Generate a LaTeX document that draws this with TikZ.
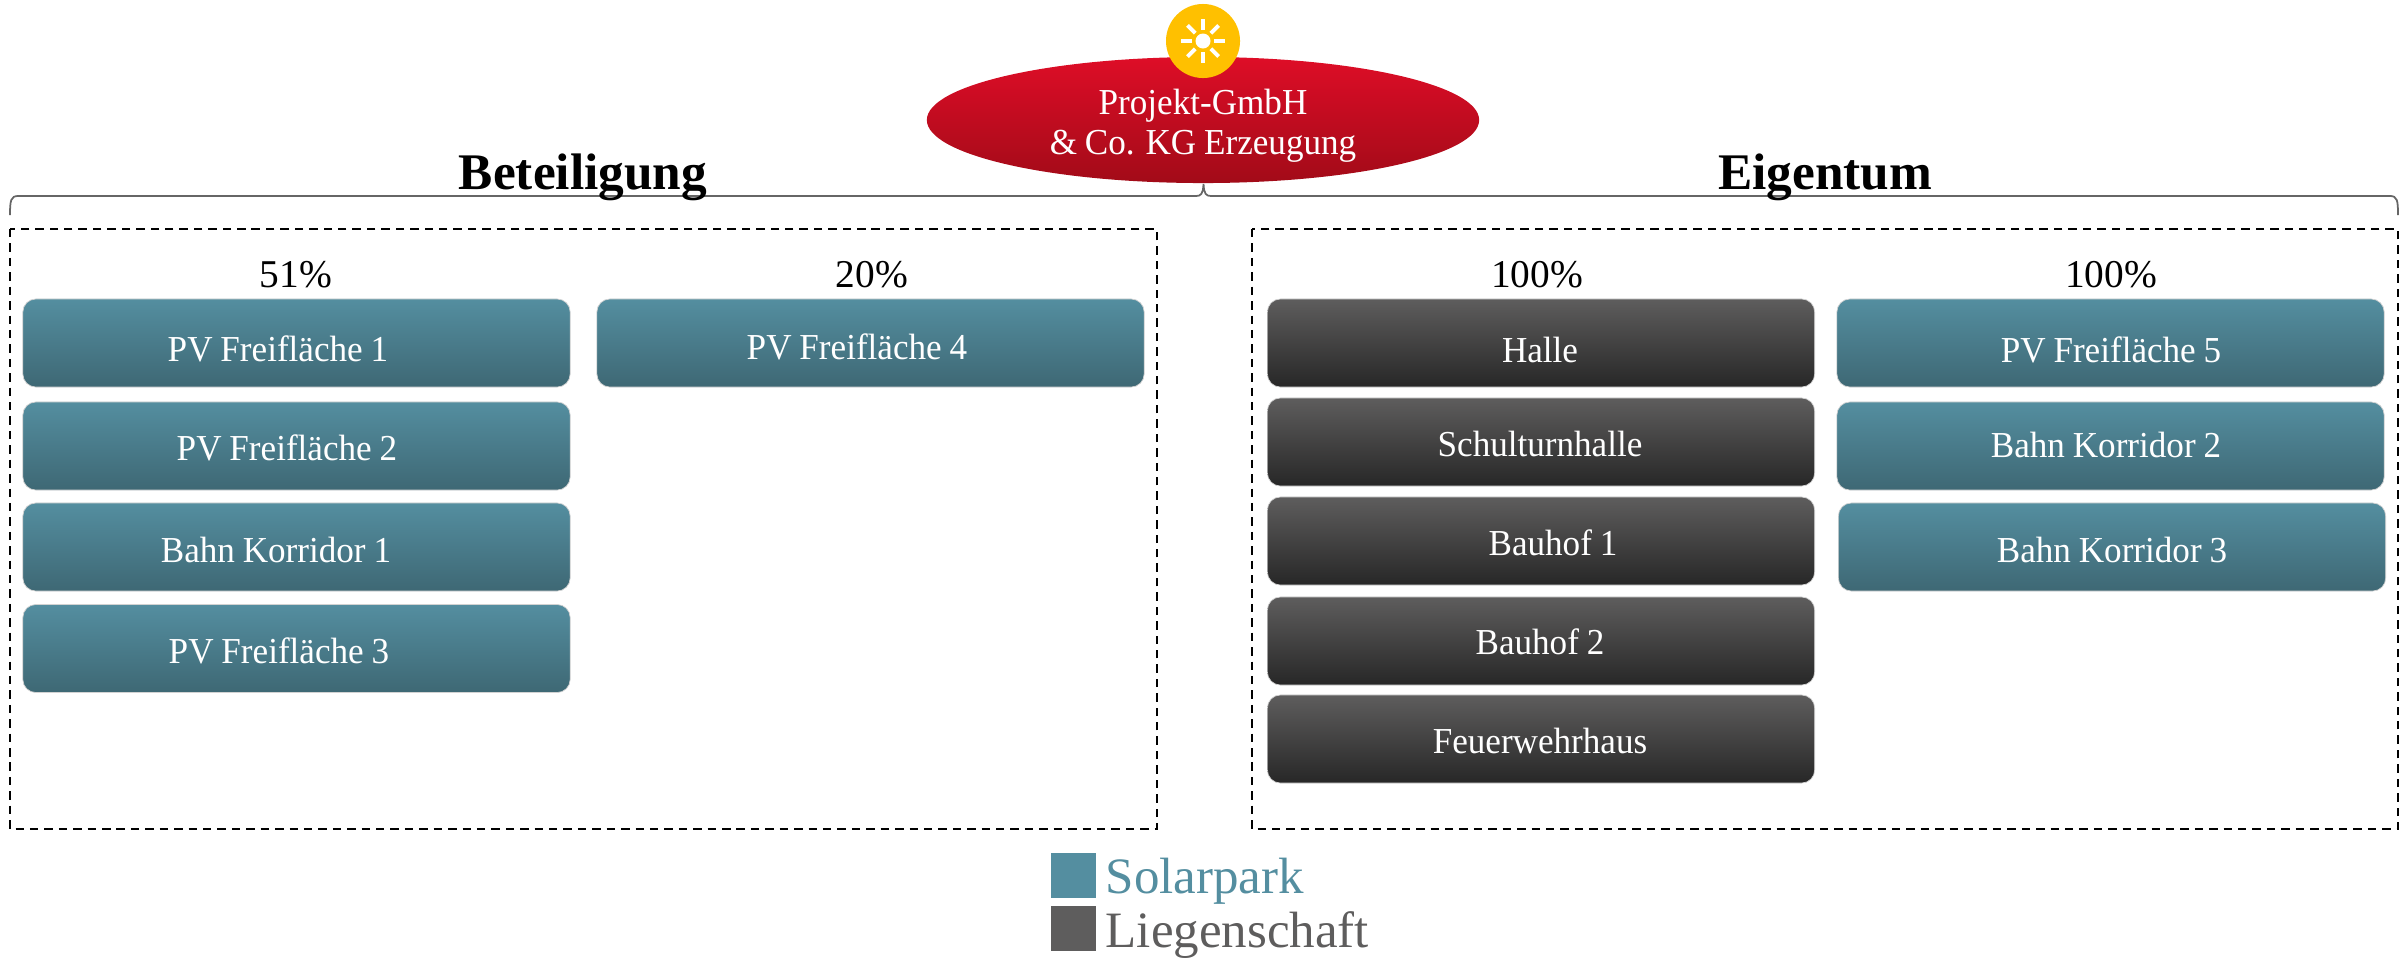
\documentclass[tikz,border=0pt]{standalone}
\usepackage{fontspec}
\setmainfont{Liberation Serif}
\newfontfamily\boxfont[FakeStretch=0.96,WordSpace=0.9]{Liberation Serif}
\usetikzlibrary{shapes.geometric}
\definecolor{solartop}{HTML}{548EA0}
\definecolor{solarbot}{HTML}{3E6874}
\definecolor{halltop}{HTML}{5E5D5D}
\definecolor{hallbot}{HTML}{272727}
\definecolor{redtop}{HTML}{DE0D27}
\definecolor{redbot}{HTML}{A20B18}
\definecolor{sunfill}{HTML}{FFC000}
\tikzset{
  solarbox/.style={rectangle,rounded corners=0.13cm,minimum width=5.47cm,minimum height=0.88cm,draw=gray!35,very thin,top color=solartop,bottom color=solarbot},
  hallbox/.style={solarbox,top color=halltop,bottom color=hallbot},
  boxtext/.style={font=\boxfont\fontsize{10.4pt}{12pt}\selectfont,text=white,text height=2.4mm,text depth=0.8mm,inner sep=0pt},
  share/.style={font=\fontsize{11.2pt}{13pt}\selectfont,text height=2.4mm,text depth=0.8mm,inner sep=0pt},
  head/.style={font=\fontsize{14.6pt}{16pt}\selectfont\bfseries,inner sep=0pt},
  frame/.style={draw=black,line width=0.55pt,dash pattern=on 2.4pt off 1.7pt},
  legend/.style={font=\fontsize{14.5pt}{16pt}\selectfont,anchor=base west,inner sep=0pt}
}
\begin{document}
\begin{tikzpicture}[x=0.01cm,y=-0.01cm]
\useasboundingbox (0,0) rectangle (2407,957);

% frames
\draw[frame] (10,229) rectangle (1157,829);
\draw[frame] (1252,229) rectangle (2398,829);

% curly bracket
\draw[gray!80!black,line width=0.5pt] (10,215) .. controls (10,200) and (11,196) .. (18,196) -- (1196,196)
  .. controls (1201,196) and (1203,194) .. (1203.5,184)
  .. controls (1204,194) and (1206,196) .. (1211,196) -- (2390,196)
  .. controls (2397,196) and (2398,200) .. (2398,215);

% company
\node[ellipse,minimum width=5.52cm,minimum height=1.26cm,inner sep=0pt,top color=redtop,bottom color=redbot] (gmbh) at (1203,120) {};
\node[boxtext] (gmbh-a) at (1203,106) {Projekt-GmbH};
\node[boxtext] (gmbh-b) at (1203,146) {\& Co. KG Erzeugung};
\node[circle,fill=sunfill,minimum size=0.74cm,inner sep=0pt] (sun) at (1203,41) {};
\node[circle,fill=white,minimum size=0.15cm,inner sep=0pt] (suncore) at (sun) {};
\foreach \ang in {0,45,...,315}
  \draw[white,line width=1.1pt] ([shift={(\ang:11)}]sun.center) -- ([shift={(\ang:22)}]sun.center);

\node[head] (beteiligung) at (583,177) {Beteiligung};
\node[head] (eigentum) at (1825,177) {Eigentum};

% shares
\node[share] (s51) at (296,279) {51\%};
\node[share] (s20) at (872,279) {20\%};
\node[share] (s100a) at (1537,279) {100\%};
\node[share] (s100b) at (2111,279) {100\%};

% solar parks
\foreach \name/\x/\y/\tx/\ty/\txt in {
  pva/296.5/343/278/353/PV Freifläche 1,
  pvb/296.5/446/287/452/PV Freifläche 2,
  bka/296.5/547/276/554/Bahn Korridor 1,
  pvc/296.5/648.5/279/655.5/PV Freifläche 3,
  pvd/870.5/343/857/351.5/PV Freifläche 4,
  pve/2110.5/343/2111/354.5/PV Freifläche 5,
  bkb/2110.5/446/2106/449.5/Bahn Korridor 2,
  bkc/2112/547/2112/554/Bahn Korridor 3}{
  \node[solarbox] (\name) at (\x,\y) {};
  \node[boxtext] (\name-t) at (\tx,\ty) {\txt};
}

% properties
\foreach \name/\y/\tx/\ty/\txt in {
  halle/343/1540/354.5/Halle,
  turn/442/1540/448.5/Schulturnhalle,
  hofa/541/1553/547.5/Bauhof 1,
  hofb/641/1540/646.5/Bauhof 2,
  feuer/739/1540/745.5/Feuerwehrhaus}{
  \node[hallbox] (\name) at (1541,\y) {};
  \node[boxtext] (\name-t) at (\tx,\ty) {\txt};
}

% legend
\fill[solartop] (1051,853) rectangle (1096,898);
\fill[halltop] (1051,906) rectangle (1096,951);
\node[legend,text=solartop] (solarpark) at (1105,893) {Solarpark};
\node[legend,text=halltop] (liegenschaft) at (1105,947) {Liegenschaft};
\end{tikzpicture}
\end{document}
